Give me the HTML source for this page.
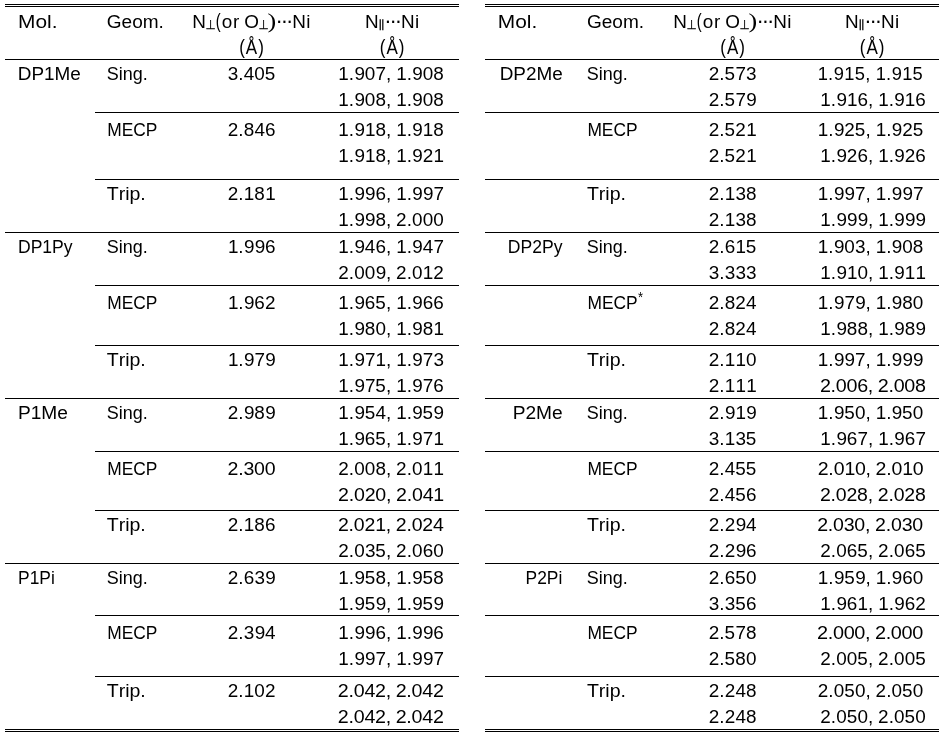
<!DOCTYPE html>
<html lang="en">
<head>
<meta charset="utf-8">
<title>Table</title>
<style>
html,body{margin:0;padding:0;background:#fff;}
body{width:946px;height:737px;overflow:hidden;}
svg{display:block;}
text{font-family:"Liberation Sans", sans-serif;font-size:18.9px;fill:#000;font-kerning:none;white-space:pre;}
rect{fill:#000;shape-rendering:crispEdges;}
.p{font-size:20.3px;}
.p2{font-family:"Liberation Serif",serif;font-size:22px;}
.perp{font-family:"DejaVu Sans",sans-serif;font-size:12.7px;stroke:#000;stroke-width:0.25px;}
.par{font-family:"DejaVu Sans",sans-serif;font-size:11.0px;}
.sup{font-size:14.2px;}
.d{font-size:22.0px;}
</style>
</head>
<body>
<svg width="946" height="737" viewBox="0 0 946 737">
<rect x="0" y="0" width="946" height="737" style="fill:#fff"/>
<g>
<rect x="5" y="4" width="454" height="1"/>
<rect x="5" y="6" width="454" height="1"/>
<text transform="translate(18,28) scale(1.106,1)">Mol.</text>
<text transform="translate(106.73,28) scale(1.008,1)">Geom.</text>
<text><tspan x="192.35" y="28">N</tspan><tspan x="205.45" y="28.9" class="perp" textLength="10.2" lengthAdjust="spacingAndGlyphs">⊥</tspan><tspan x="215.69" y="27.7" class="p" textLength="4.9" lengthAdjust="spacingAndGlyphs">(</tspan><tspan x="221.72 233.02 239.83 244.19" y="28">or O</tspan><tspan x="258.4" y="28.9" class="perp" textLength="10.2" lengthAdjust="spacingAndGlyphs">⊥</tspan><tspan x="267.46" y="28.26" class="p2" textLength="8.69" lengthAdjust="spacingAndGlyphs">)</tspan><tspan class="d" x="275.39 280.69 286" y="28">···</tspan><tspan x="292.25 306.16" y="28">Ni</tspan></text>
<text transform="translate(0,54) scale(0.9,1.07)" x="265.75 273.15 286.85" y="0">(Å)</text>
<text><tspan x="364.95" y="28">N</tspan><tspan x="377.85" y="28.4" class="par" textLength="8.11" lengthAdjust="spacingAndGlyphs">∥</tspan><tspan class="d" x="384.14 389.44 394.75" y="28">···</tspan><tspan x="401 414.91" y="28">Ni</tspan></text>
<text transform="translate(0,54) scale(0.9,1.07)" x="421.97 429.37 443.07" y="0">(Å)</text>
<rect x="5" y="59" width="454" height="1"/>
<text x="17.87" y="80">DP1Me</text>
<text transform="translate(106.65,80) scale(0.952,1)">Sing.</text>
<text x="227.87 238.32 243.74 254.32 264.84" y="80">3.405</text>
<text x="338.37 348.79 354.46 364.79 375.58 386.03 391.25 396.24 406.65 412.32 422.65 433.29" y="80">1.907, 1.908</text>
<text x="338.37 348.79 354.46 364.79 375.43 386.03 391.25 396.24 406.65 412.32 422.65 433.29" y="106">1.908, 1.908</text>
<rect x="95" y="112" width="364" height="1"/>
<text transform="translate(107.19,136) scale(0.92,1)">MECP</text>
<text x="227.75 238.32 243.67 254.38 265" y="136">2.846</text>
<text x="338.37 348.79 354.46 364.96 375.43 386.03 391.25 396.24 406.65 412.32 422.83 433.29" y="136">1.918, 1.918</text>
<text x="338.37 348.79 354.46 364.96 375.43 386.03 391.25 396.24 406.65 412.32 422.67 433.47" y="162">1.918, 1.921</text>
<rect x="95" y="179" width="364" height="1"/>
<text transform="translate(106.71,200) scale(1.035,1)">Trip.</text>
<text x="227.75 238.32 243.85 254.32 265.14" y="200">2.181</text>
<text x="338.37 348.79 354.46 365.1 375.47 386.03 391.25 396.24 406.65 412.32 422.97 433.45" y="200">1.996, 1.997</text>
<text x="338.37 348.79 354.46 365.1 375.43 386.03 391.25 396.09 406.65 412 422.65 433.29" y="226">1.998, 2.000</text>
<rect x="5" y="232" width="454" height="1"/>
<text transform="translate(17.98,253) scale(0.929,1)">DP1Py</text>
<text transform="translate(106.65,253) scale(0.952,1)">Sing.</text>
<text x="227.91 238.32 243.99 254.63 265" y="253">1.996</text>
<text x="338.37 348.79 354.46 364.85 375.47 386.03 391.25 396.24 406.65 412.32 422.71 433.45" y="253">1.946, 1.947</text>
<text x="338.22 348.79 354.14 364.79 375.75 386.03 391.25 396.09 406.65 412 422.83 433.32" y="279">2.009, 2.012</text>
<rect x="95" y="285" width="364" height="1"/>
<text transform="translate(107.19,309) scale(0.92,1)">MECP</text>
<text x="227.91 238.32 243.99 254.36 264.99" y="309">1.962</text>
<text x="338.37 348.79 354.46 364.83 375.3 386.03 391.25 396.24 406.65 412.32 422.69 433.33" y="309">1.965, 1.966</text>
<text x="338.37 348.79 354.46 364.79 375.43 386.03 391.25 396.24 406.65 412.32 422.65 433.47" y="335">1.980, 1.981</text>
<rect x="95" y="345" width="364" height="1"/>
<text transform="translate(106.71,366) scale(1.035,1)">Trip.</text>
<text x="227.91 238.32 243.99 254.47 265.28" y="366">1.979</text>
<text x="338.37 348.79 354.46 364.94 375.61 386.03 391.25 396.24 406.65 412.32 422.8 433.43" y="366">1.971, 1.973</text>
<text x="338.37 348.79 354.46 364.94 375.3 386.03 391.25 396.24 406.65 412.32 422.8 433.33" y="392">1.975, 1.976</text>
<rect x="5" y="398" width="454" height="1"/>
<text transform="translate(17.94,419) scale(1.014,1)">P1Me</text>
<text transform="translate(106.65,419) scale(0.952,1)">Sing.</text>
<text x="227.75 238.32 243.99 254.32 265.28" y="419">2.989</text>
<text x="338.37 348.79 354.46 364.66 375.49 386.03 391.25 396.24 406.65 412.32 422.52 433.61" y="419">1.954, 1.959</text>
<text x="338.37 348.79 354.46 364.83 375.3 386.03 391.25 396.24 406.65 412.32 422.8 433.47" y="445">1.965, 1.971</text>
<rect x="95" y="451" width="364" height="1"/>
<text transform="translate(107.19,475) scale(0.92,1)">MECP</text>
<text transform="translate(0,475) scale(1.034,1)" x="220.01 230.31 235.54 245.69 255.98" y="0">2.300</text>
<text x="338.22 348.79 354.14 364.79 375.43 386.03 391.25 396.09 406.65 412 422.83 433.47" y="475">2.008, 2.011</text>
<text transform="translate(0,501) scale(1.037,1)" x="326.05 336.34 341.41 351.7 361.94 372.25 377.38 381.86 392.15 397.22 407.55 417.91" y="0">2.020, 2.041</text>
<rect x="95" y="510" width="364" height="1"/>
<text transform="translate(106.71,531) scale(1.035,1)">Trip.</text>
<text x="227.75 238.32 243.85 254.32 265" y="531">2.186</text>
<text transform="translate(0,531) scale(1.032,1)" x="327.45 337.77 342.87 353.21 363.66 373.84 378.98 383.5 393.82 398.92 409.25 419.6" y="0">2.021, 2.024</text>
<text x="338.22 348.79 354.14 364.93 375.3 386.03 391.25 396.09 406.65 412 422.69 433.29" y="557">2.035, 2.060</text>
<rect x="5" y="563" width="454" height="1"/>
<text transform="translate(18.08,584) scale(0.921,1)">P1Pi</text>
<text transform="translate(106.65,584) scale(0.952,1)">Sing.</text>
<text x="227.75 238.32 243.72 254.46 265.28" y="584">2.639</text>
<text x="338.37 348.79 354.46 364.66 375.43 386.03 391.25 396.24 406.65 412.32 422.52 433.29" y="584">1.958, 1.958</text>
<text x="338.37 348.79 354.46 364.66 375.75 386.03 391.25 396.24 406.65 412.32 422.52 433.61" y="610">1.959, 1.959</text>
<rect x="95" y="615" width="364" height="1"/>
<text transform="translate(107.19,639) scale(0.92,1)">MECP</text>
<text x="227.75 238.32 243.82 254.63 265.03" y="639">2.394</text>
<text x="338.37 348.79 354.46 365.1 375.47 386.03 391.25 396.24 406.65 412.32 422.97 433.33" y="639">1.996, 1.996</text>
<text x="338.37 348.79 354.46 365.1 375.58 386.03 391.25 396.24 406.65 412.32 422.97 433.45" y="665">1.997, 1.997</text>
<rect x="95" y="676" width="364" height="1"/>
<text transform="translate(106.71,697) scale(1.035,1)">Trip.</text>
<text x="227.75 238.32 243.85 254.32 264.99" y="697">2.102</text>
<text transform="translate(0,697) scale(1.04,1)" x="324.86 335.11 340.16 350.45 360.64 370.9 376.02 380.47 390.72 395.77 406.06 416.25" y="0">2.042, 2.042</text>
<text transform="translate(0,723) scale(1.04,1)" x="324.86 335.11 340.16 350.45 360.64 370.9 376.02 380.47 390.72 395.77 406.06 416.25" y="0">2.042, 2.042</text>
<rect x="5" y="729" width="454" height="1"/>
<rect x="5" y="731" width="454" height="1"/>
</g>
<g>
<rect x="485" y="4" width="454" height="1"/>
<rect x="485" y="6" width="454" height="1"/>
<text transform="translate(497.85,28) scale(1.106,1)">Mol.</text>
<text transform="translate(586.93,28) scale(1.008,1)">Geom.</text>
<text><tspan x="673.35" y="28">N</tspan><tspan x="686.45" y="28.9" class="perp" textLength="10.2" lengthAdjust="spacingAndGlyphs">⊥</tspan><tspan x="696.69" y="27.7" class="p" textLength="4.9" lengthAdjust="spacingAndGlyphs">(</tspan><tspan x="702.72 714.02 720.83 725.19" y="28">or O</tspan><tspan x="739.4" y="28.9" class="perp" textLength="10.2" lengthAdjust="spacingAndGlyphs">⊥</tspan><tspan x="748.46" y="28.26" class="p2" textLength="8.69" lengthAdjust="spacingAndGlyphs">)</tspan><tspan class="d" x="756.39 761.69 767" y="28">···</tspan><tspan x="773.25 787.16" y="28">Ni</tspan></text>
<text transform="translate(0,54) scale(0.9,1.07)" x="800.25 807.65 821.35" y="0">(Å)</text>
<text><tspan x="844.95" y="28">N</tspan><tspan x="857.85" y="28.4" class="par" textLength="8.11" lengthAdjust="spacingAndGlyphs">∥</tspan><tspan class="d" x="864.14 869.44 874.75" y="28">···</tspan><tspan x="881 894.91" y="28">Ni</tspan></text>
<text transform="translate(0,54) scale(0.9,1.07)" x="955.31 962.7 976.4" y="0">(Å)</text>
<rect x="485" y="59" width="454" height="1"/>
<text x="499.71" y="80">DP2Me</text>
<text transform="translate(586.85,80) scale(0.952,1)">Sing.</text>
<text x="708.75 719.32 724.55 735.47 746.1" y="80">2.573</text>
<text x="708.75 719.32 724.55 735.47 746.28" y="106">2.579</text>
<text transform="translate(0,80) scale(0.969,1)" x="843.96 854.61 860.54 871.39 882.05 893.03 898.33 903.65 914.31 920.24 931.08 941.74" y="0">1.915, 1.915</text>
<text x="820.37 830.79 836.46 846.96 857.47 868.03 873.25 878.24 888.65 894.32 904.83 915.33" y="106">1.916, 1.916</text>
<rect x="485" y="112" width="454" height="1"/>
<text transform="translate(587.39,136) scale(0.92,1)">MECP</text>
<text x="708.75 719.32 724.55 735.34 746.14" y="136">2.521</text>
<text x="708.75 719.32 724.55 735.34 746.14" y="162">2.521</text>
<text x="817.87 828.29 833.96 844.31 854.8 865.53 870.75 875.74 886.15 891.82 902.17 912.67" y="136">1.925, 1.925</text>
<text x="820.37 830.79 836.46 846.81 857.47 868.03 873.25 878.24 888.65 894.32 904.67 915.33" y="162">1.926, 1.926</text>
<rect x="485" y="179" width="454" height="1"/>
<text transform="translate(586.91,200) scale(1.035,1)">Trip.</text>
<text x="708.75 719.32 724.85 735.46 745.96" y="200">2.138</text>
<text x="708.75 719.32 724.85 735.46 745.96" y="226">2.138</text>
<text x="817.87 828.29 833.96 844.6 855.08 865.53 870.75 875.74 886.15 891.82 902.47 912.95" y="200">1.997, 1.997</text>
<text x="820.37 830.79 836.46 847.1 857.75 868.03 873.25 878.24 888.65 894.32 904.97 915.61" y="226">1.999, 1.999</text>
<rect x="485" y="232" width="454" height="1"/>
<text transform="translate(507.87,253) scale(0.929,1)">DP2Py</text>
<text transform="translate(586.85,253) scale(0.952,1)">Sing.</text>
<text x="708.75 719.32 724.72 735.49 745.84" y="253">2.615</text>
<text x="708.87 719.32 724.82 735.46 746.1" y="279">3.333</text>
<text x="817.87 828.29 833.96 844.29 855.07 865.53 870.75 875.74 886.15 891.82 902.15 912.79" y="253">1.903, 1.908</text>
<text x="820.37 830.79 836.46 846.96 857.43 868.03 873.25 878.24 888.65 894.32 904.83 915.47" y="279">1.910, 1.911</text>
<rect x="485" y="285" width="454" height="1"/>
<text transform="translate(0,309) scale(0.92,1)" x="638.57" y="0">MECP<tspan x="693.44" dy="-7.1" class="sup">*</tspan></text>
<text x="708.75 719.32 724.67 735.34 746.03" y="309">2.824</text>
<text x="708.75 719.32 724.67 735.34 746.03" y="335">2.824</text>
<text x="817.87 828.29 833.96 844.44 855.25 865.53 870.75 875.74 886.15 891.82 902.15 912.79" y="309">1.979, 1.980</text>
<text x="820.37 830.79 836.46 846.79 857.43 868.03 873.25 878.24 888.65 894.32 904.65 915.61" y="335">1.988, 1.989</text>
<rect x="485" y="345" width="454" height="1"/>
<text transform="translate(586.91,366) scale(1.035,1)">Trip.</text>
<text x="708.75 719.32 724.85 735.49 745.96" y="366">2.110</text>
<text x="708.75 719.32 724.85 735.49 746.14" y="392">2.111</text>
<text x="817.87 828.29 833.96 844.6 855.08 865.53 870.75 875.74 886.15 891.82 902.47 913.11" y="366">1.997, 1.999</text>
<text transform="translate(0,392) scale(1.043,1)" x="786.12 796.36 801.38 811.58 821.83 832.06 837.17 841.59 851.83 856.85 867.06 877.26" y="0">2.006, 2.008</text>
<rect x="485" y="398" width="454" height="1"/>
<text transform="translate(512.69,419) scale(1.014,1)">P2Me</text>
<text transform="translate(586.85,419) scale(0.952,1)">Sing.</text>
<text x="708.75 719.32 724.99 735.49 746.28" y="419">2.919</text>
<text x="708.87 719.32 724.85 735.46 745.84" y="445">3.135</text>
<text x="817.87 828.29 833.96 844.16 854.93 865.53 870.75 875.74 886.15 891.82 902.02 912.79" y="419">1.950, 1.950</text>
<text x="820.37 830.79 836.46 846.83 857.58 868.03 873.25 878.24 888.65 894.32 904.69 915.45" y="445">1.967, 1.967</text>
<rect x="485" y="451" width="454" height="1"/>
<text transform="translate(587.39,475) scale(0.92,1)">MECP</text>
<text x="708.75 719.32 724.74 735.19 745.84" y="475">2.455</text>
<text x="708.75 719.32 724.74 735.19 746" y="501">2.456</text>
<text transform="translate(0,475) scale(1.033,1)" x="791.6 801.92 807.02 817.48 827.63 837.97 843.11 847.63 857.94 863.04 873.51 883.65" y="0">2.010, 2.010</text>
<text transform="translate(0,501) scale(1.032,1)" x="794.5 804.82 809.92 820.26 830.54 840.89 846.03 850.56 860.88 865.98 876.32 886.6" y="0">2.028, 2.028</text>
<rect x="485" y="510" width="454" height="1"/>
<text transform="translate(586.91,531) scale(1.035,1)">Trip.</text>
<text x="708.75 719.32 724.7 735.63 746.03" y="531">2.294</text>
<text x="708.75 719.32 724.7 735.63 746" y="557">2.296</text>
<text transform="translate(0,531) scale(1.035,1)" x="789.52 799.81 804.89 815.31 825.45 835.77 840.9 845.4 855.69 860.77 871.19 881.33" y="0">2.030, 2.030</text>
<text x="820.22 830.79 836.14 846.83 857.3 868.03 873.25 878.09 888.65 894 904.69 915.17" y="557">2.065, 2.065</text>
<rect x="485" y="563" width="454" height="1"/>
<text transform="translate(525.57,584) scale(0.921,1)">P2Pi</text>
<text transform="translate(586.85,584) scale(0.952,1)">Sing.</text>
<text x="708.75 719.32 724.72 735.19 745.96" y="584">2.650</text>
<text x="708.87 719.32 724.82 735.19 746" y="610">3.356</text>
<text x="817.87 828.29 833.96 844.16 855.25 865.53 870.75 875.74 886.15 891.82 902.19 912.79" y="584">1.959, 1.960</text>
<text x="820.37 830.79 836.46 846.83 857.61 868.03 873.25 878.24 888.65 894.32 904.69 915.32" y="610">1.961, 1.962</text>
<rect x="485" y="615" width="454" height="1"/>
<text transform="translate(587.39,639) scale(0.92,1)">MECP</text>
<text x="708.75 719.32 724.55 735.47 745.96" y="639">2.578</text>
<text x="708.75 719.32 724.55 735.32 745.96" y="665">2.580</text>
<text transform="translate(0,639) scale(1.052,1)" x="776.73 786.9 791.85 801.97 812.08 822.28 827.37 831.71 841.88 846.84 856.95 867.06" y="0">2.000, 2.000</text>
<text x="820.22 830.79 836.14 846.79 857.3 868.03 873.25 878.09 888.65 894 904.65 915.17" y="665">2.005, 2.005</text>
<rect x="485" y="676" width="454" height="1"/>
<text transform="translate(586.91,697) scale(1.035,1)">Trip.</text>
<text x="708.75 719.32 724.7 735.38 745.96" y="697">2.248</text>
<text x="708.75 719.32 724.7 735.38 745.96" y="723">2.248</text>
<text x="817.72 828.29 833.64 844.16 854.93 865.53 870.75 875.59 886.15 891.5 902.02 912.79" y="697">2.050, 2.050</text>
<text x="820.22 830.79 836.14 846.66 857.43 868.03 873.25 878.09 888.65 894 904.52 915.29" y="723">2.050, 2.050</text>
<rect x="485" y="729" width="454" height="1"/>
<rect x="485" y="731" width="454" height="1"/>
</g>
</svg>
</body>
</html>
